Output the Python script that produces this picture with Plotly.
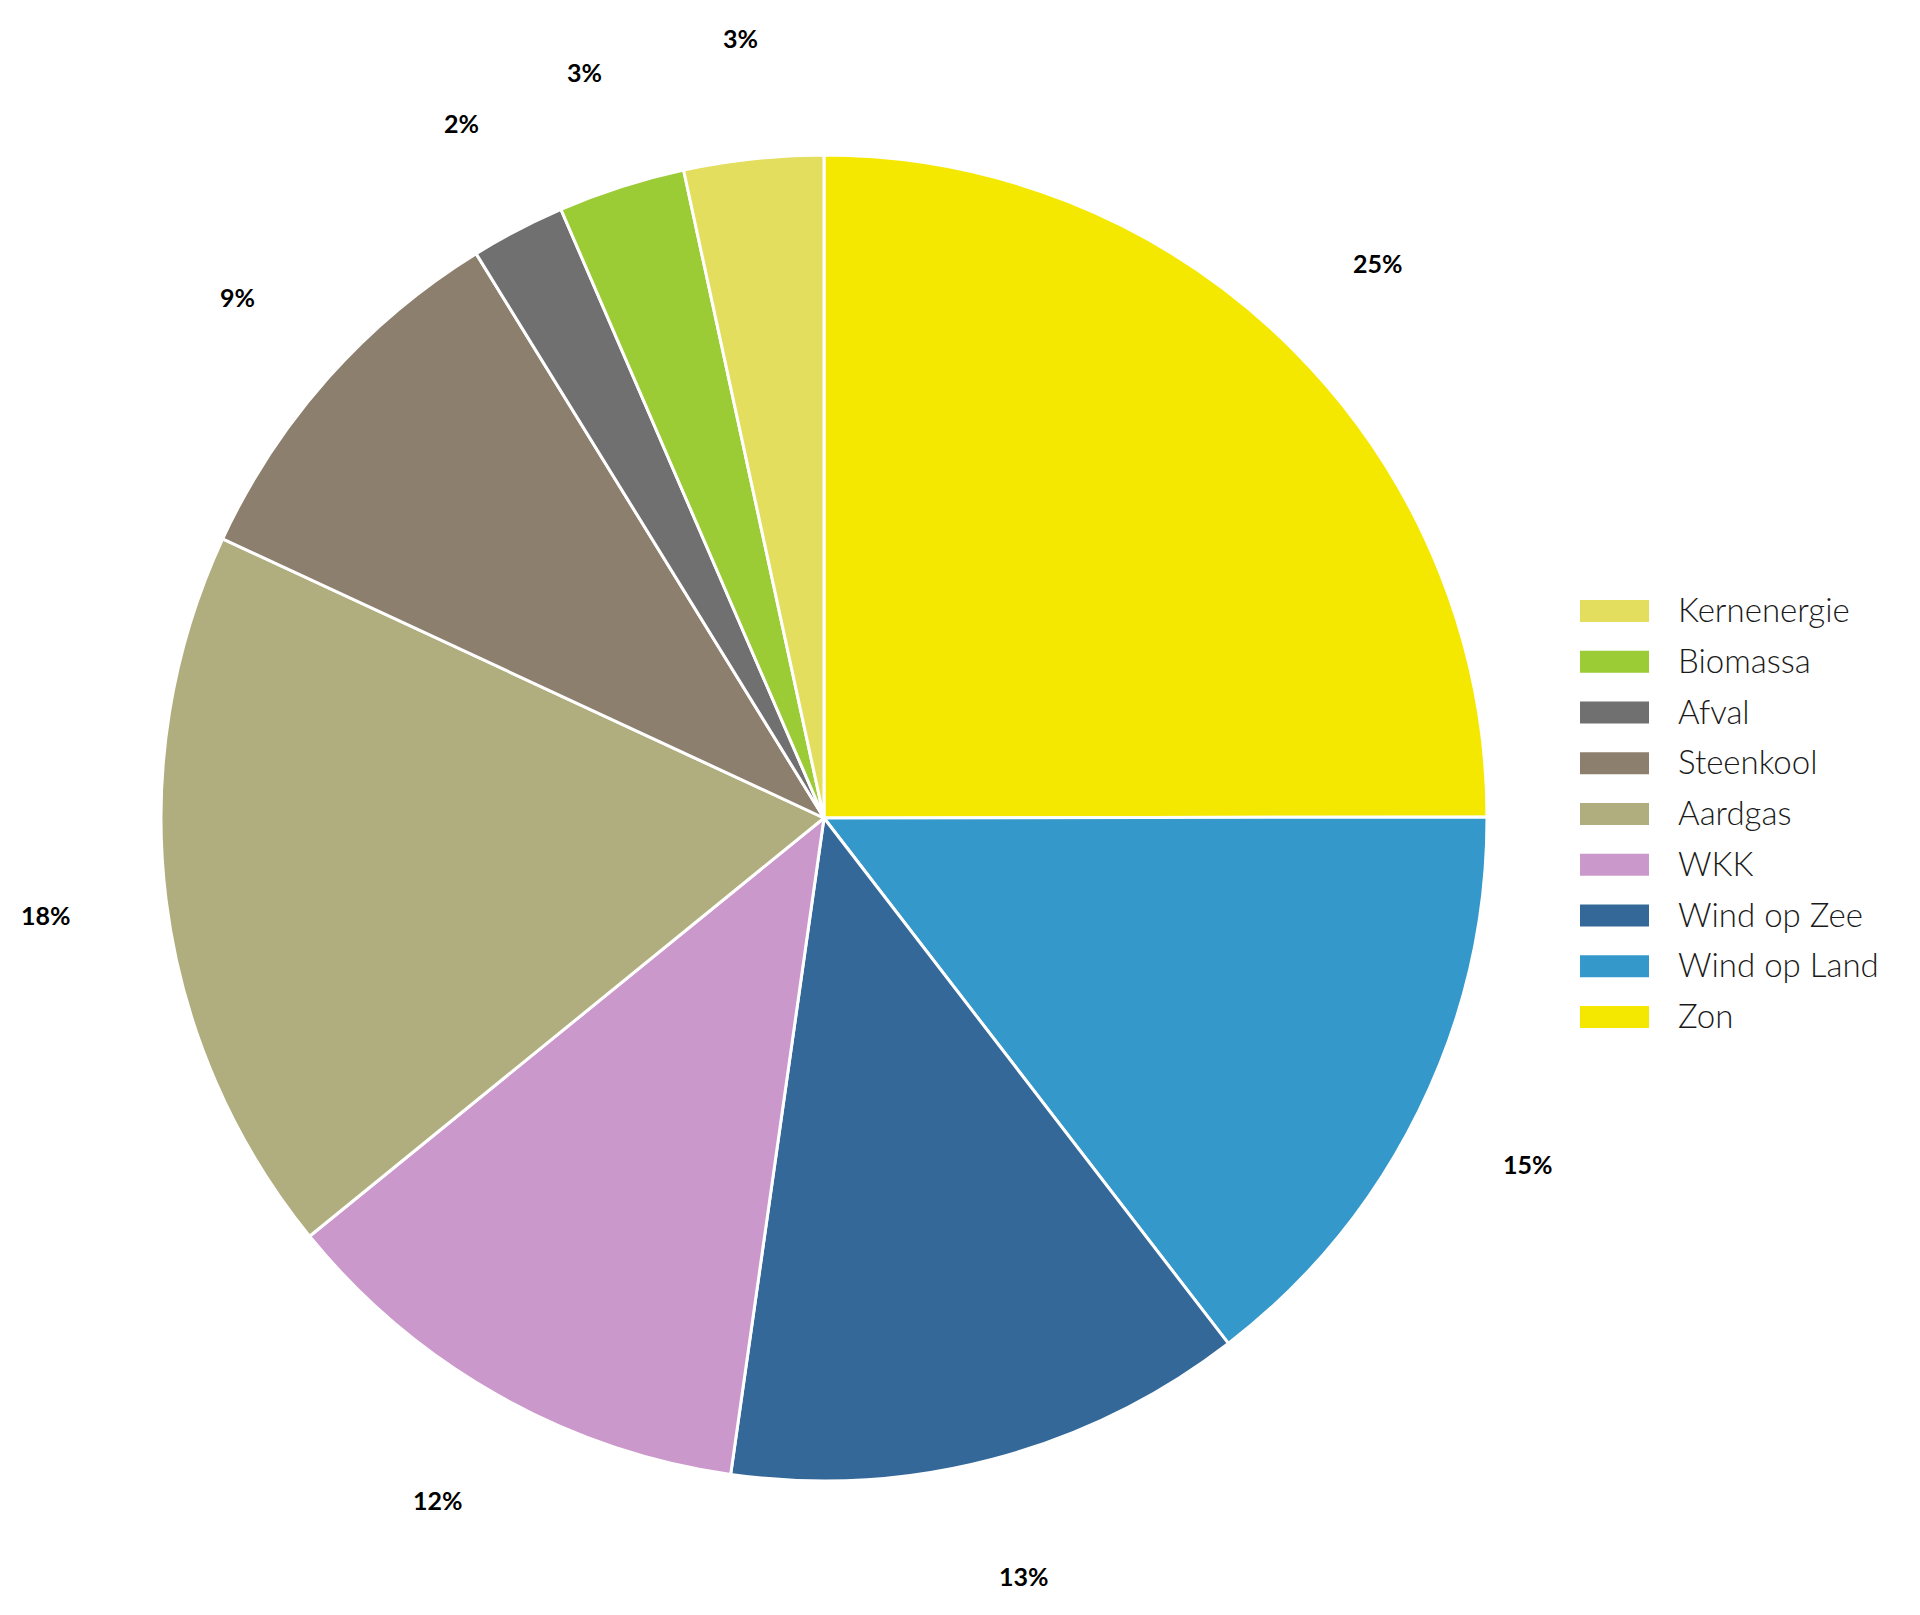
#!/usr/bin/env python3

import numpy as np
import plotly.graph_objects as go

# share per source (percent), legend order
labels = ['Kernenergie', 'Biomassa', 'Afval', 'Steenkool', 'Aardgas',
          'WKK', 'Wind op Zee', 'Wind op Land', 'Zon']
values = [3.4, 3.1, 2.3, 9.3, 17.8, 11.9, 12.7, 14.6, 25.0]
colors = ['#E3DE5E', '#9BCB35', '#707070', '#8C7F6E', '#B0AE7E',
          '#CB98CB', '#346898', '#3498CB', '#F5E800']

W, H = 1920, 1615
OFF = 8                    # the page body has an 8px margin
cx, cy = 824 - OFF, 818 - OFF   # pie centre in px (from top)
R = 663                    # pie radius in px
label_r = 784              # radius where the percentages sit

# slices go counterclockwise from 12 o'clock in legend order,
# i.e. clockwise in reversed order
fig = go.Figure(go.Pie(
    labels=labels[::-1],
    values=values[::-1],
    marker=dict(colors=colors[::-1], line=dict(color='white', width=3)),
    sort=False,
    direction='clockwise',
    rotation=0,
    textinfo='none',
    hoverinfo='label+percent',
    showlegend=False,
    domain=dict(x=[(cx - R) / W, (cx + R) / W],
                y=[(H - cy - R) / H, (H - cy + R) / H]),
))

# percentage labels outside the pie
total = float(np.sum(values))
cum = np.cumsum(values) - np.array(values) / 2.0
annotations = []
for v, c in zip(values, cum):
    theta = 2 * np.pi * c / total
    px = cx - label_r * np.sin(theta)
    py = cy - label_r * np.cos(theta)
    annotations.append(dict(
        x=px / W, y=1 - py / H, xref='paper', yref='paper',
        text='{:.0f}%'.format(100 * v / total), showarrow=False,
        xanchor='center', yanchor='middle',
        font=dict(family='Lato', size=25, color='black', weight='bold'),
    ))

# hand drawn legend with wide swatches
shapes = []
leg_x0, leg_y0, leg_dy = 1580 - OFF, 611 - OFF, 50.75
for i, (name, col) in enumerate(zip(labels, colors)):
    yc = leg_y0 + i * leg_dy
    shapes.append(dict(
        type='rect', xref='paper', yref='paper',
        x0=leg_x0 / W, x1=(leg_x0 + 69) / W,
        y0=1 - (yc - 11) / H, y1=1 - (yc + 11) / H,
        fillcolor=col, line=dict(width=0),
    ))
    annotations.append(dict(
        x=(1676 - OFF) / W, y=1 - (yc - 2) / H, xref='paper', yref='paper',
        text=name, showarrow=False, xanchor='left', yanchor='middle',
        font=dict(family='Lato', size=33, color='#1a1a1a', weight=300),
    ))

fig.update_layout(
    width=W, height=H,
    margin=dict(l=0, r=0, t=0, b=0),
    paper_bgcolor='white',
    plot_bgcolor='white',
    annotations=annotations,
    shapes=shapes,
)

fig.write_html("out.html")
